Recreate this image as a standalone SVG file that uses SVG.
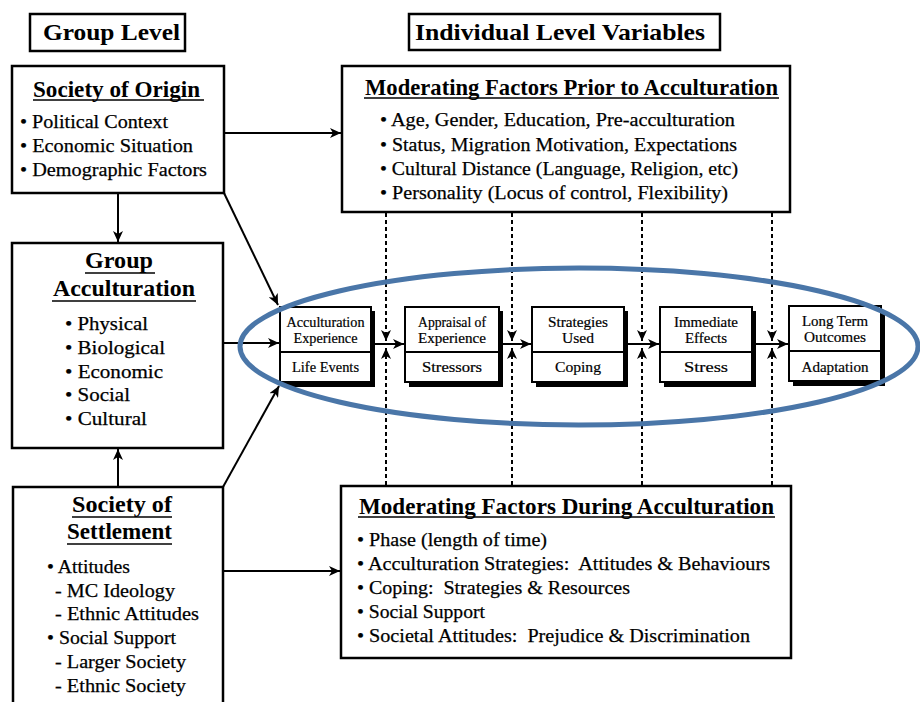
<svg xmlns="http://www.w3.org/2000/svg" width="920" height="702" viewBox="0 0 920 702">
<defs>
<marker id="ah" markerUnits="userSpaceOnUse" markerWidth="12" markerHeight="10" refX="11" refY="5" orient="auto">
<path d="M0,0 L11,5 L0,10 L3,5 z" fill="#000"/>
</marker>
<style>
.box{fill:#fff;stroke:#000;stroke-width:2.5}
text{font-family:'Liberation Serif','Times New Roman',Tinos,Times,serif;fill:#000}
.hdr{font-weight:bold;font-size:24px}
.ttl{font-weight:bold;font-size:23px}
.itm{font-size:19.5px;stroke:#000;stroke-width:0.25}
.ul{stroke:#000;stroke-width:1.5}
.cb{fill:#fff;stroke:#000;stroke-width:2}
.sh{fill:#000}
.ct{font-size:14px;text-anchor:middle;stroke:#000;stroke-width:0.2}
.ln{stroke:#000;stroke-width:2;fill:none}
.dl{stroke:#000;stroke-width:2;fill:none;stroke-dasharray:4 3}
</style>
</defs>
<rect width="920" height="702" fill="#fff"/>

<g id="group-level">
<rect class="box" x="30" y="14" width="155" height="37"/>
<text class="hdr" x="43" y="40" textLength="137" lengthAdjust="spacingAndGlyphs">Group Level</text>
</g>

<g id="individual-level">
<rect class="box" x="409" y="14" width="311" height="36"/>
<text class="hdr" x="415" y="40" textLength="290" lengthAdjust="spacingAndGlyphs">Individual Level Variables</text>
</g>

<g id="society-of-origin">
<rect class="box" x="12" y="66" width="212" height="127"/>
<text class="ttl" x="33" y="97" textLength="167" lengthAdjust="spacingAndGlyphs">Society of Origin</text>
<line class="ul" x1="33" y1="100" x2="204" y2="100"/>
<text class="itm" x="20" y="128" textLength="148" lengthAdjust="spacingAndGlyphs">• Political Context</text>
<text class="itm" x="20" y="152" textLength="173" lengthAdjust="spacingAndGlyphs">• Economic Situation</text>
<text class="itm" x="20" y="176" textLength="187" lengthAdjust="spacingAndGlyphs">• Demographic Factors</text>
</g>

<g id="group-acculturation">
<rect class="box" x="12" y="243" width="211" height="205"/>
<text class="ttl" x="85" y="268" textLength="68" lengthAdjust="spacingAndGlyphs">Group</text>
<line class="ul" x1="85" y1="273" x2="155" y2="273"/>
<text class="ttl" x="53" y="296" textLength="142" lengthAdjust="spacingAndGlyphs">Acculturation</text>
<line class="ul" x1="52" y1="301" x2="196" y2="301"/>
<text class="itm" x="65" y="330" textLength="83" lengthAdjust="spacingAndGlyphs">• Physical</text>
<text class="itm" x="65" y="354" textLength="100" lengthAdjust="spacingAndGlyphs">• Biological</text>
<text class="itm" x="65" y="378" textLength="98" lengthAdjust="spacingAndGlyphs">• Economic</text>
<text class="itm" x="65" y="401" textLength="65" lengthAdjust="spacingAndGlyphs">• Social</text>
<text class="itm" x="65" y="425" textLength="82" lengthAdjust="spacingAndGlyphs">• Cultural</text>
</g>

<g id="society-of-settlement">
<rect class="box" x="13" y="487" width="210" height="230"/>
<text class="ttl" x="72" y="512" textLength="100" lengthAdjust="spacingAndGlyphs">Society of</text>
<line class="ul" x1="72" y1="517" x2="172" y2="517"/>
<text class="ttl" x="67" y="539" textLength="105" lengthAdjust="spacingAndGlyphs">Settlement</text>
<line class="ul" x1="67" y1="544" x2="172" y2="544"/>
<text class="itm" x="47" y="573" textLength="83" lengthAdjust="spacingAndGlyphs">• Attitudes</text>
<text class="itm" x="55" y="597" textLength="120" lengthAdjust="spacingAndGlyphs">- MC Ideology</text>
<text class="itm" x="55" y="620" textLength="144" lengthAdjust="spacingAndGlyphs">- Ethnic Attitudes</text>
<text class="itm" x="47" y="644" textLength="129" lengthAdjust="spacingAndGlyphs">• Social Support</text>
<text class="itm" x="55" y="668" textLength="131" lengthAdjust="spacingAndGlyphs">- Larger Society</text>
<text class="itm" x="55" y="692" textLength="131" lengthAdjust="spacingAndGlyphs">- Ethnic Society</text>
</g>

<g id="moderating-prior">
<rect class="box" x="342" y="66" width="448" height="146"/>
<text class="ttl" x="365" y="95" textLength="413" lengthAdjust="spacingAndGlyphs">Moderating Factors Prior to Acculturation</text>
<line class="ul" x1="364" y1="98" x2="779" y2="98"/>
<text class="itm" x="380" y="126" textLength="355" lengthAdjust="spacingAndGlyphs">• Age, Gender, Education, Pre-acculturation</text>
<text class="itm" x="380" y="151" textLength="357" lengthAdjust="spacingAndGlyphs">• Status, Migration Motivation, Expectations</text>
<text class="itm" x="380" y="175" textLength="358" lengthAdjust="spacingAndGlyphs">• Cultural Distance (Language, Religion, etc)</text>
<text class="itm" x="380" y="199" textLength="348" lengthAdjust="spacingAndGlyphs">• Personality (Locus of control, Flexibility)</text>
</g>

<g id="moderating-during">
<rect class="box" x="341" y="486" width="450" height="172"/>
<text class="ttl" x="359" y="514" textLength="415" lengthAdjust="spacingAndGlyphs">Moderating Factors During Acculturation</text>
<line class="ul" x1="358" y1="517" x2="775" y2="517"/>
<text class="itm" x="357" y="546" textLength="190" lengthAdjust="spacingAndGlyphs">• Phase (length of time)</text>
<text class="itm" x="357" y="570" textLength="413" lengthAdjust="spacingAndGlyphs" xml:space="preserve">• Acculturation Strategies:  Attitudes &amp; Behaviours</text>
<text class="itm" x="357" y="594" textLength="273" lengthAdjust="spacingAndGlyphs" xml:space="preserve">• Coping:  Strategies &amp; Resources</text>
<text class="itm" x="357" y="618" textLength="128" lengthAdjust="spacingAndGlyphs">• Social Support</text>
<text class="itm" x="357" y="642" textLength="393" lengthAdjust="spacingAndGlyphs" xml:space="preserve">• Societal Attitudes:  Prejudice &amp; Discrimination</text>
</g>

<g id="acculturation-experience">
<rect class="sh" x="284" y="311" width="91" height="76"/>
<rect class="cb" x="280" y="307" width="91" height="75"/>
<line class="ln" x1="280" y1="352" x2="371" y2="352"/>
<text class="ct" x="325.5" y="327" textLength="78" lengthAdjust="spacingAndGlyphs">Acculturation</text>
<text class="ct" x="325.5" y="343" textLength="64" lengthAdjust="spacingAndGlyphs">Experience</text>
<text class="ct" x="325.5" y="372" textLength="67" lengthAdjust="spacingAndGlyphs">Life Events</text>
</g>

<g id="appraisal">
<rect class="sh" x="409" y="311" width="94" height="76"/>
<rect class="cb" x="405" y="307" width="94" height="75"/>
<line class="ln" x1="405" y1="352" x2="499" y2="352"/>
<text class="ct" x="452" y="327" textLength="68" lengthAdjust="spacingAndGlyphs">Appraisal of</text>
<text class="ct" x="452" y="343" textLength="68" lengthAdjust="spacingAndGlyphs">Experience</text>
<text class="ct" x="452" y="372" textLength="60" lengthAdjust="spacingAndGlyphs">Stressors</text>
</g>

<g id="strategies">
<rect class="sh" x="536" y="311" width="92" height="76"/>
<rect class="cb" x="532" y="307" width="92" height="75"/>
<line class="ln" x1="532" y1="352" x2="624" y2="352"/>
<text class="ct" x="578" y="327" textLength="60" lengthAdjust="spacingAndGlyphs">Strategies</text>
<text class="ct" x="578" y="343" textLength="32" lengthAdjust="spacingAndGlyphs">Used</text>
<text class="ct" x="578" y="372" textLength="46" lengthAdjust="spacingAndGlyphs">Coping</text>
</g>

<g id="immediate-effects">
<rect class="sh" x="664" y="311" width="92" height="76"/>
<rect class="cb" x="660" y="307" width="92" height="75"/>
<line class="ln" x1="660" y1="352" x2="752" y2="352"/>
<text class="ct" x="706" y="327" textLength="64" lengthAdjust="spacingAndGlyphs">Immediate</text>
<text class="ct" x="706" y="343" textLength="42" lengthAdjust="spacingAndGlyphs">Effects</text>
<text class="ct" x="706" y="372" textLength="44" lengthAdjust="spacingAndGlyphs">Stress</text>
</g>

<g id="long-term-outcomes">
<rect class="sh" x="793" y="310" width="92" height="76"/>
<rect class="cb" x="789" y="306" width="92" height="75"/>
<line class="ln" x1="789" y1="351" x2="881" y2="351"/>
<text class="ct" x="835" y="326" textLength="66" lengthAdjust="spacingAndGlyphs">Long Term</text>
<text class="ct" x="835" y="342" textLength="62" lengthAdjust="spacingAndGlyphs">Outcomes</text>
<text class="ct" x="835" y="372" textLength="67" lengthAdjust="spacingAndGlyphs">Adaptation</text>
</g>

<g id="connectors">
<line class="ln" x1="224" y1="133" x2="341" y2="133" marker-end="url(#ah)"/>
<line class="ln" x1="118" y1="193" x2="118" y2="242" marker-end="url(#ah)"/>
<line class="ln" x1="118" y1="487" x2="118" y2="449" marker-end="url(#ah)"/>
<line class="ln" x1="224" y1="193" x2="278" y2="305" marker-end="url(#ah)"/>
<line class="ln" x1="223" y1="343" x2="279" y2="343" marker-end="url(#ah)"/>
<line class="ln" x1="223" y1="487" x2="279" y2="386" marker-end="url(#ah)"/>
<line class="ln" x1="223" y1="571" x2="340" y2="571" marker-end="url(#ah)"/>
<line class="ln" x1="371" y1="344" x2="404" y2="344" marker-end="url(#ah)"/>
<line class="ln" x1="499" y1="344" x2="531" y2="344" marker-end="url(#ah)"/>
<line class="ln" x1="624" y1="344" x2="659" y2="344" marker-end="url(#ah)"/>
<line class="ln" x1="752" y1="344" x2="788" y2="344" marker-end="url(#ah)"/>
<line class="dl" x1="386" y1="213" x2="386" y2="341" marker-end="url(#ah)"/>
<line class="dl" x1="386" y1="485" x2="386" y2="348" marker-end="url(#ah)"/>
<line class="dl" x1="512" y1="213" x2="512" y2="341" marker-end="url(#ah)"/>
<line class="dl" x1="512" y1="485" x2="512" y2="348" marker-end="url(#ah)"/>
<line class="dl" x1="642" y1="213" x2="642" y2="341" marker-end="url(#ah)"/>
<line class="dl" x1="642" y1="485" x2="642" y2="348" marker-end="url(#ah)"/>
<line class="dl" x1="772" y1="213" x2="772" y2="341" marker-end="url(#ah)"/>
<line class="dl" x1="772" y1="485" x2="772" y2="348" marker-end="url(#ah)"/>
</g>

<ellipse cx="579" cy="346.5" rx="339" ry="78.5" fill="none" stroke="#4a76a8" stroke-width="5"/>
</svg>
